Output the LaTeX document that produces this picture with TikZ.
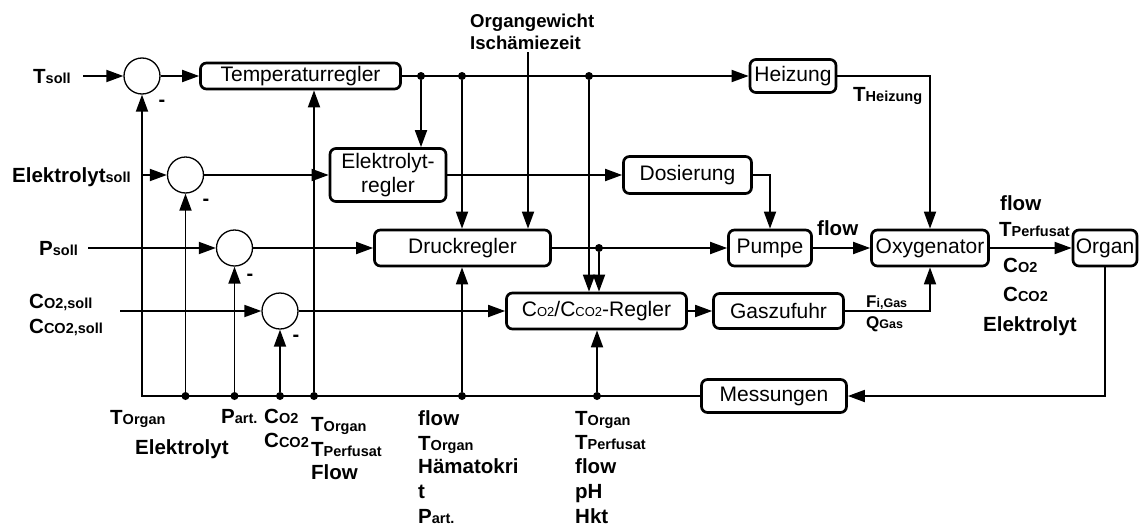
\documentclass[tikz,border=0pt]{standalone}
\usepackage{fontspec}
\setmainfont{Liberation Sans}
\usetikzlibrary{arrows.meta}
% quantity with a smaller index set on the same baseline
\newcommand\ix[2]{#1{\fontsize{14.5}{14.5}\selectfont #2}}
\newcommand\lo[1]{{\fontsize{13}{13}\selectfont #1}}
\newcommand\gs[2]{#1{\fontsize{12.5}{12.5}\selectfont #2}}

\begin{document}
\begin{tikzpicture}[x=1pt,y=-1pt,
  box/.style={draw, line width=2.7pt, rounded corners=6pt, inner sep=0pt, align=center,
              font=\fontsize{21}{24}\selectfont},
  sum/.style={draw, circle, line width=1.3pt, minimum size=36pt, inner sep=0pt},
  conn/.style={line width=1.8pt},
  arr/.style={conn, -{Triangle[length=17pt,width=12pt]}},
  jdot/.style={circle, fill, inner sep=0pt, minimum size=8pt},
  lbl/.style={font=\bfseries\fontsize{20.5}{24}\selectfont, inner sep=0pt, anchor=base west},
  slbl/.style={font=\bfseries\fontsize{18.6}{22}\selectfont, inner sep=0pt, anchor=base west},
  glbl/.style={font=\bfseries\fontsize{17}{20}\selectfont, inner sep=0pt, anchor=base west},
  minus/.style={font=\bfseries\fontsize{20}{20}\selectfont, inner sep=0pt},
]
\useasboundingbox (0,0) rectangle (1140,525);

% ---- controller and plant blocks
\node[box, minimum width=200pt, minimum height=26pt] (temp)   at (300.5,76)  {Temperaturregler};
\node[box, minimum width=116pt, minimum height=53pt] (elreg)  at (388,175)   {Elektrolyt-\\regler};
\node[box, minimum width=86pt,  minimum height=33pt] (heiz)   at (793,76)    {Heizung};
\node[box, minimum width=128pt, minimum height=37pt] (dos)    at (687.5,175) {Dosierung};
\node[box, minimum width=176pt, minimum height=36pt] (druck)  at (462.5,248) {Druckregler};
\node[box, minimum width=83pt,  minimum height=36pt] (pumpe)  at (770,248)   {Pumpe};
\node[box, minimum width=117pt, minimum height=36pt] (oxy)    at (930,248)   {Oxygenator};
\node[box, minimum width=64pt,  minimum height=36pt] (organ)  at (1105,248)  {Organ};
\node[box, minimum width=180pt, minimum height=36pt] (co2reg) at (596.5,311) {C\lo{O2}/C\lo{CO2}-Regler};
\node[box, minimum width=130pt, minimum height=35pt] (gas)    at (778.5,311) {Gaszufuhr};
\node[box, minimum width=145pt, minimum height=33pt] (mess)   at (774,396)   {Messungen};

% ---- summing points
\node[sum] (s1) at (142,76)    {};
\node[sum] (s2) at (185.5,175) {};
\node[sum] (s3) at (234.5,248) {};
\node[sum] (s4) at (280,311)   {};

\node[minus] (m1) at (162,103) {-};
\node[minus] (m2) at (206,202) {-};
\node[minus] (m3) at (250,277) {-};
\node[minus] (m4) at (296,338) {-};

% ---- set points
\node[lbl] (tsoll)    at (33,83)  {\ix{T}{soll}};
\node[lbl] (elsoll)   at (12,182) {\ix{Elektrolyt}{soll}};
\node[lbl] (psoll)    at (39,255) {\ix{P}{soll}};
\node[lbl] (co2soll)  at (29,308) {\ix{C}{O2,soll}};
\node[lbl] (cco2soll) at (29,333) {\ix{C}{CO2,soll}};
\coordinate (tin)  at (83,76);
\coordinate (ein)  at (143,175);
\coordinate (pin)  at (88,248);
\coordinate (cin)  at (120,311);

\node[slbl] (ogw) at (470,27) {Organgewicht};
\node[slbl] (isz) at (470,49) {Ischämiezeit};
\coordinate (ogin) at (528,52);

% ---- forward paths
\draw[arr] (tin) -- (s1);
\draw[arr] (s1) -- (temp);
\draw[arr] (temp.east) -- (heiz.west);
\node[jdot] (j1) at (421,76) {};
\node[jdot] (j2) at (462,76) {};
\node[jdot] (j3) at (589,76) {};
\draw[arr] (j1) -- (j1 |- elreg.north);
\draw[arr] (j2) -- (j2 |- druck.north);
\draw[arr] (j3) -- (j3 |- co2reg.north);
\draw[arr] (ogin) -- (ogin |- druck.north);
\draw[arr] (heiz.east) -| (oxy.north);

\draw[arr] (ein) -- (s2);
\draw[arr] (s2) -- (elreg);
\draw[arr] (elreg.east) -- (dos.west);
\draw[arr] (dos.east) -| (pumpe.north);

\draw[arr] (pin) -- (s3);
\draw[arr] (s3) -- (druck);
\draw[arr] (druck.east) -- (pumpe.west);
\node[jdot] (j4) at (599,248) {};
\draw[arr] (j4) -- (j4 |- co2reg.north);
\draw[arr] (pumpe.east) -- (oxy.west);
\draw[arr] (oxy.east) -- (organ.west);

\draw[arr] (cin) -- (s4);
\draw[arr] (s4) -- (co2reg);
\draw[arr] (co2reg.east) -- (gas.west);
\draw[arr] (gas.east) -| (oxy.south);

% ---- measurement feedback
\draw[arr] (organ.south) |- (mess.east);
\draw[arr] (mess.west) -| (s1.south);
\node[jdot] (b1) at (s2.center |- mess.west) {};
\node[jdot] (b2) at (s3.center |- mess.west) {};
\node[jdot] (b3) at (s4.center |- mess.west) {};
\node[jdot] (b4) at (314,396) {};
\node[jdot] (b5) at (462,396) {};
\node[jdot] (b6) at (597,396) {};
\draw[arr] (b1) -- (s2.south);
\draw[arr] (b2) -- (s3.south);
\draw[arr] (b3) -- (s4.south);
\draw[arr] (b4) -- (b4 |- temp.south);
\draw[arr] (b5) -- (b5 |- druck.south);
\draw[arr] (b6) -- (b6 |- co2reg.south);

% ---- signal labels
\node[lbl] (theiz) at (853,101)  {\ix{T}{Heizung}};
\node[lbl] (flow1) at (817,235)  {flow};
\node[lbl] (flow2) at (1000,210) {flow};
\node[lbl] (tperf) at (999,236)  {\ix{T}{Perfusat}};
\node[lbl] (co2o)  at (1003,272) {\ix{C}{O2}};
\node[lbl] (cco2o) at (1003,301) {\ix{C}{CO2}};
\node[lbl] (elo)   at (983,331)  {Elektrolyt};
\node[glbl] (fgas) at (866,307)  {\gs{F}{i,Gas}};
\node[glbl] (qgas) at (866,328)  {\gs{Q}{Gas}};

\node[lbl] (bt1) at (110,424) {\ix{T}{Organ}};
\node[lbl] (bt2) at (135,454) {Elektrolyt};
\node[lbl] (bt3) at (221,423) {\ix{P}{art.}};
\node[lbl] (bt4) at (264,423) {\ix{C}{O2}};
\node[lbl] (bt5) at (264,447) {\ix{C}{CO2}};
\node[lbl] (bt6) at (311,431) {\ix{T}{Organ}};
\node[lbl] (bt7) at (311,456) {\ix{T}{Perfusat}};
\node[lbl] (bt8) at (311,479) {Flow};

\node[lbl] (ca1) at (418,425) {flow};
\node[lbl] (ca2) at (418,450) {\ix{T}{Organ}};
\node[lbl] (ca3) at (418,473) {Hämatokri};
\node[lbl] (ca4) at (418,498) {t};
\node[lbl] (ca5) at (418,523) {\ix{P}{art.}};

\node[lbl] (cb1) at (575,425) {\ix{T}{Organ}};
\node[lbl] (cb2) at (575,449) {\ix{T}{Perfusat}};
\node[lbl] (cb3) at (575,473) {flow};
\node[lbl] (cb4) at (575,498) {pH};
\node[lbl] (cb5) at (575,523) {Hkt};
\end{tikzpicture}
\end{document}
